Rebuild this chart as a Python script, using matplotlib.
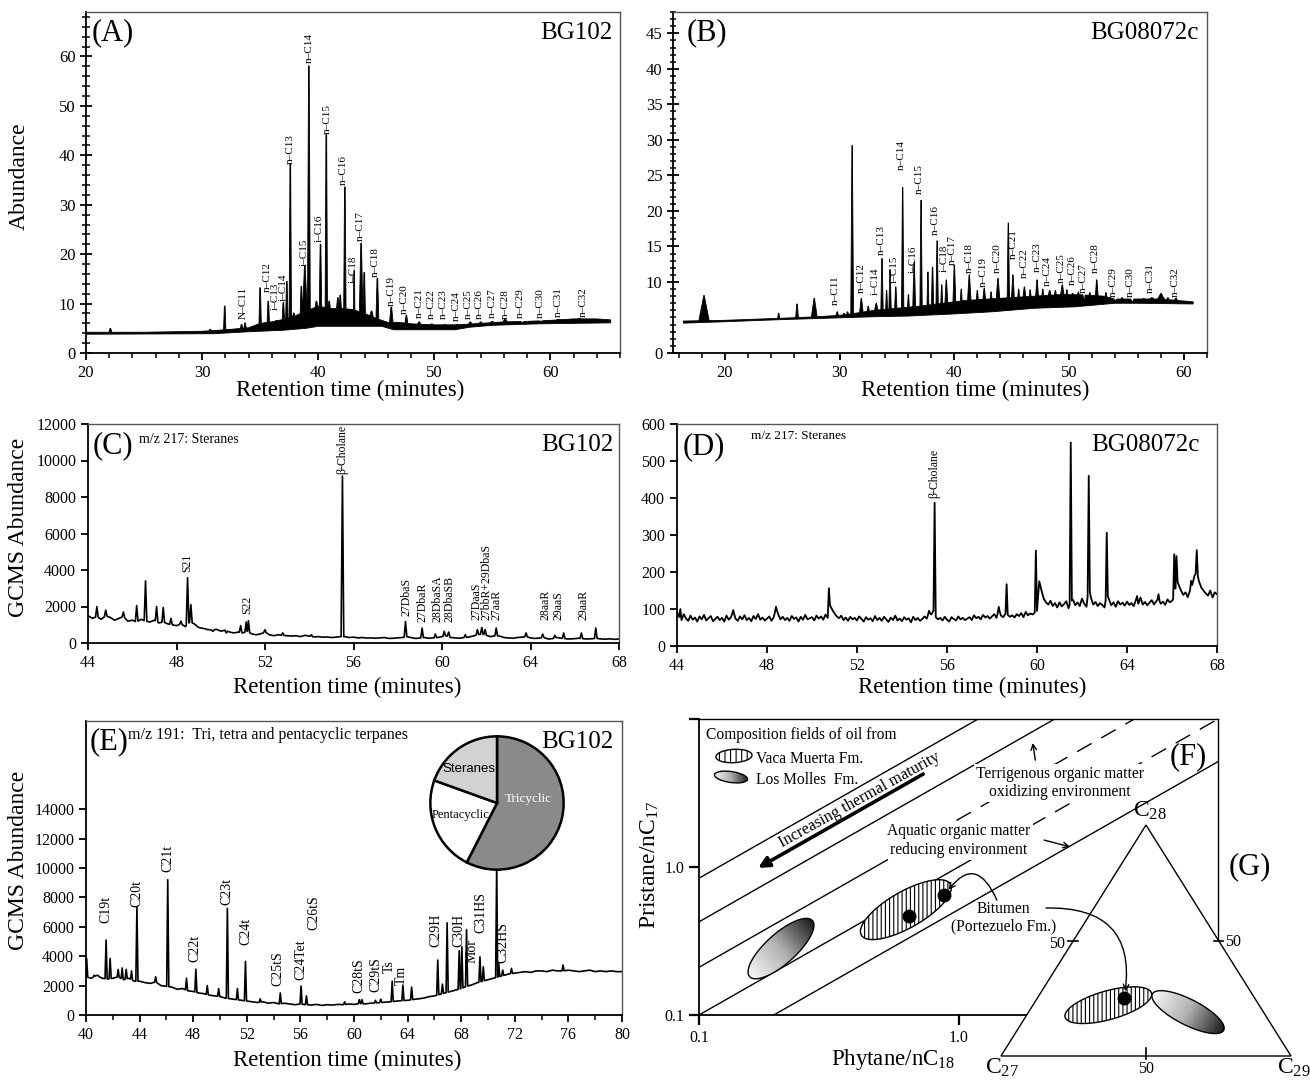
import numpy as np
import matplotlib
matplotlib.use("Agg")
import matplotlib.pyplot as plt
from matplotlib.patches import Polygon, Ellipse
from matplotlib.colors import LinearSegmentedColormap
from matplotlib.ticker import MultipleLocator, FixedLocator, NullLocator

plt.rcParams["font.family"] = ["Liberation Serif", "DejaVu Serif"]
plt.rcParams["mathtext.fontset"] = "custom"
plt.rcParams["mathtext.rm"] = "Liberation Serif"
plt.rcParams["mathtext.it"] = "Liberation Serif:italic"
plt.rcParams["hatch.linewidth"] = 0.8

# ====================== DATA ======================
# ---- Panel A : BG102 whole-oil chromatogram ----
A_base_t = [20, 31, 34, 37, 39, 40, 45.5, 46.5, 51.8, 53, 55, 59, 65.2]
A_base_v = [3.8, 3.9, 4.3, 4.6, 5.0, 5.4, 5.4, 4.7, 4.7, 5.2, 5.6, 5.9, 6.1]
A_env_t = [20, 25, 30, 32, 34, 35, 36, 37, 38, 39, 40, 41, 42, 43, 44, 45, 46, 47, 48, 50, 52, 54, 56, 58, 60, 62, 64, 65.2]
A_env_v = [4.2, 4.2, 4.4, 4.7, 5.1, 6.0, 6.3, 6.8, 7.5, 8.5, 9.5, 9.0, 9.0, 8.8, 8.0, 7.0, 6.2, 6.2, 5.9, 5.7, 5.7, 6.0, 6.3, 6.4, 6.6, 6.9, 6.9, 6.7]
A_pk_t = [22.1, 30.7, 31.95, 33.4, 33.7, 35.0, 35.7, 36.4, 37.0, 37.3, 37.6, 37.9, 38.55, 38.85, 39.2, 39.85,
          40.2, 40.7, 40.95, 41.7, 41.9, 42.3, 43.1, 43.7, 43.97, 44.6, 45.1, 46.3, 47.6, 48.7, 49.8, 50.9,
          52.0, 53.1, 54.0, 55.0, 56.1, 57.6, 59.2, 60.7, 62.5]
A_pk_v = [5.0, 4.8, 9.5, 5.8, 6.1, 13.2, 10.5, 6.6, 10.2, 14.5, 38.3, 8.1, 13.5, 17.6, 58.1, 10.5,
          22.0, 44.2, 10.5, 11.2, 11.7, 33.6, 16.6, 22.2, 16.3, 8.5, 15.1, 9.3, 7.6, 6.3, 5.9, 5.8,
          5.8, 6.3, 6.3, 6.4, 6.8, 6.2, 6.4, 6.8, 7.0]
A_pk_w = [0.12, 0.1, 0.1, 0.1, 0.1, 0.1, 0.1, 0.1, 0.1, 0.1, 0.1, 0.1, 0.1, 0.2, 0.12, 0.1,
          0.1, 0.1, 0.1, 0.12, 0.1, 0.1, 0.06, 0.15, 0.1, 0.15, 0.12, 0.15, 0.12, 0.15, 0.12, 0.12,
          0.12, 0.15, 0.15, 0.15, 0.2, 0.15, 0.15, 0.2, 0.2]
A_lab = ["N–C11", "n–C12", "i–C13", "i–C14", "n–C13", "i–C15", "n–C14", "i–C16", "n–C15", "n–C16",
         "i–C18", "n–C17", "n–C18", "n–C19", "n–C20", "n–C21", "n–C22", "n–C23", "n–C24", "n–C25",
         "n–C26", "n–C27", "n–C28", "n–C29", "n–C30", "n–C31", "n–C32"]
A_lab_t = [33.5, 35.6, 36.3, 37.0, 37.6, 38.8, 39.2, 40.1, 40.8, 42.2, 43.0, 43.6, 44.9, 46.3, 47.4,
           48.7, 49.7, 50.8, 51.9, 52.9, 53.9, 55.0, 56.1, 57.4, 59.1, 60.7, 62.8]
A_lab_y = [6.8, 12.4, 8.8, 10.5, 38.3, 17.6, 58.6, 22.4, 44.4, 33.9, 14.2, 22.7, 15.3, 9.5, 7.8,
           7.1, 6.8, 6.8, 6.4, 6.8, 6.8, 7.1, 6.8, 7.1, 7.1, 7.3, 7.3]

# ---- Panel B : BG08072c whole-oil chromatogram ----
B_base_t = [16.4, 20, 25, 29, 33, 36, 40, 43.3, 47, 50.5, 54, 56, 60.8]
B_base_v = [4.2, 4.4, 4.7, 4.9, 5.1, 5.2, 5.5, 5.8, 6.3, 6.5, 7.0, 7.0, 6.9]
B_env_t = [16.4, 20, 25, 28, 30, 31, 33, 35, 37, 39, 41, 43, 45, 47, 49, 51, 53, 54, 56, 58, 60.8]
B_env_v = [4.5, 4.6, 4.9, 5.1, 5.3, 5.5, 6.0, 6.3, 6.6, 7.0, 7.4, 7.6, 7.8, 8.0, 8.2, 8.2, 8.0, 7.6, 7.6, 7.6, 7.2]
B_pk_t = [18.2, 24.7, 26.3, 27.8, 29.8, 30.4, 30.7, 31.1, 31.9, 32.5, 33.2, 33.7, 34.1, 34.4, 34.9, 35.5,
          36.0, 36.5, 37.1, 37.7, 38.1, 38.5, 38.9, 39.3, 40.0, 40.6, 41.3, 42.0, 42.6, 43.2, 43.8, 44.7,
          45.1, 45.6, 46.1, 46.6, 47.2, 47.7, 48.3, 48.8, 49.4, 49.8, 50.3, 50.8, 51.3, 51.8, 52.4, 53.2,
          54.0, 54.6, 55.5, 56.5, 57.2, 58.0, 58.6, 59.3]
B_pk_v = [8.1, 5.6, 6.9, 7.7, 5.8, 5.6, 5.8, 29.2, 7.7, 6.6, 7.0, 13.3, 8.8, 11.7, 9.3, 23.3,
          8.2, 12.8, 21.5, 11.4, 12.1, 15.8, 9.6, 10.3, 12.4, 9.0, 11.0, 8.8, 9.1, 8.6, 10.5, 18.3,
          11.0, 9.0, 9.3, 8.9, 10.3, 9.0, 8.8, 8.8, 9.6, 8.9, 8.4, 8.6, 7.4, 8.5, 10.3, 8.5,
          7.4, 7.8, 7.2, 7.7, 7.8, 8.4, 7.8, 7.7]
B_pk_w = [0.45, 0.1, 0.12, 0.25, 0.12, 0.08, 0.08, 0.12, 0.15, 0.1, 0.15, 0.1, 0.08, 0.1, 0.1, 0.1,
          0.08, 0.12, 0.1, 0.08, 0.1, 0.1, 0.08, 0.12, 0.12, 0.08, 0.15, 0.08, 0.12, 0.08, 0.15, 0.1,
          0.12, 0.08, 0.12, 0.08, 0.12, 0.08, 0.12, 0.08, 0.15, 0.08, 0.12, 0.08, 0.1, 0.08, 0.12, 0.08,
          0.15, 0.1, 0.15, 0.12, 0.2, 0.3, 0.1, 0.15]
B_lab = ["n–C11", "n–C12", "i–C14", "n–C13", "i–C15", "n–C14", "i–C16", "n–C15", "n–C16", "i–C18",
         "n–C17", "n–C18", "n–C19", "n–C20", "n–C21", "n–C22", "n–C23", "n–C24", "n–C25", "n–C26",
         "n–C27", "n–C28", "n–C29", "n–C30", "n–C31", "n–C32"]
B_lab_t = [29.6, 31.85, 33.1, 33.65, 34.8, 35.35, 36.4, 36.9, 38.35, 39.15, 39.85, 41.3, 42.5, 43.75,
           45.1, 46.1, 47.2, 48.1, 49.3, 50.3, 51.2, 52.3, 53.8, 55.3, 57.1, 59.2]
B_lab_y = [6.7, 8.4, 8.1, 13.8, 9.8, 25.7, 11.2, 22.4, 16.6, 11.4, 12.4, 11.2, 9.3, 11.3,
           13.3, 10.5, 11.4, 9.4, 9.9, 9.6, 8.4, 11.3, 7.9, 7.9, 8.4, 7.9]

# ---- Panel C : BG102 m/z 217 ----
C_t = np.round(np.arange(44.0, 68.01, 0.2), 2)
C_base = [1500, 1350, 1450, 1300, 1500, 1400, 1250, 1350, 1450, 1200,
          1250, 1150, 1300, 1200, 1150, 1250, 1100, 1150, 1050, 1000,
          950, 1050, 900, 1150, 1050, 850, 800, 750, 700, 750,
          650, 700, 600, 550, 600, 550, 650, 500, 450, 500,
          600, 450, 400, 450, 420, 400, 380, 400, 350, 420,
          380, 330, 350, 320, 330, 300, 320, 350, 350, 300,
          320, 280, 300, 270, 280, 260, 280, 300, 250, 260,
          280, 300, 350, 300, 250, 270, 300, 260, 280, 300,
          350, 400, 300, 280, 260, 300, 320, 380, 450, 500,
          420, 350, 400, 380, 300, 280, 260, 300, 320, 350,
          280, 250, 270, 300, 220, 240, 300, 260, 230, 220,
          240, 260, 230, 220, 240, 250, 220, 210, 230, 200, 220]
C_pk_t = [44.4, 44.8, 45.6, 46.2, 46.6, 47.1, 47.4, 47.75, 48.2, 48.5, 48.65, 49.4, 49.65, 50.25,
          50.9, 51.15, 51.25, 52.0, 52.8, 54.1, 55.5, 58.35, 59.1, 59.7, 60.1, 60.3, 61.05, 61.6,
          61.8, 61.95, 62.45, 63.8, 64.55, 65.1, 65.5, 66.3, 66.95]
C_pk_v = [2000, 1800, 1700, 2050, 3400, 2000, 1950, 1350, 1200, 3580, 2100, 730, 640, 550,
          950, 1150, 1220, 730, 550, 450, 9150, 1180, 820, 490, 640, 600, 450, 730,
          850, 730, 820, 550, 490, 420, 550, 550, 820]
C_lab = ["S21", "S22", "β-Cholane", "27DbaS", "27DbaR", "28DbaSA", "28DbaSB", "27DaaS",
         "27bbR+29DbaS", "27aaR", "28aaR", "29aaS", "29aaR"]
C_lab_t = [48.5, 51.2, 55.5, 58.4, 59.1, 59.8, 60.35, 61.55, 62.0, 62.45, 64.7, 65.25, 66.4]
C_lab_y = [3900, 1600, 9250, 1500, 1150, 1150, 1150, 1250, 1250, 1250, 1250, 1250, 1250]

# ---- Panel D : BG08072c m/z 217 ----
D_t = np.round(np.arange(44.0, 68.001, 0.1), 2)
D_base = [92, 78, 70, 86, 74, 68, 82, 71, 77, 66,
          80, 72, 84, 69, 75, 81, 67, 73, 79, 70,
          76, 66, 82, 71, 78, 95, 74, 68, 80, 72,
          83, 70, 76, 67, 81, 73, 86, 71, 77, 69,
          74, 80, 68, 78, 104, 85, 72, 79, 70, 76,
          68, 81, 73, 77, 66, 79, 71, 84, 72, 75,
          78, 69, 82, 74, 80, 71, 85, 76, 110, 98,
          88, 80, 75, 82, 70, 77, 68, 79, 72, 76,
          69, 80, 73, 66, 78, 71, 75, 67, 81, 70,
          76, 68, 79, 72, 65, 77, 70, 82, 69, 74,
          67, 78, 71, 75, 64, 79, 70, 76, 68, 73,
          80, 74, 92, 85, 96, 78, 72, 76, 69, 79,
          71, 66, 78, 73, 69, 80, 72, 76, 70, 74,
          78, 70, 83, 75, 79, 72, 84, 77, 81, 74,
          80, 86, 76, 100, 82, 78, 88, 84, 79, 83,
          77, 86, 81, 89, 78, 92, 83, 88, 85, 90,
          95, 175, 150, 128, 118, 112, 122, 108, 116, 104,
          118, 107, 113, 121, 102, 120, 125, 110, 118, 108,
          128, 114, 106, 160, 130, 112, 119, 108, 116, 111,
          104, 140, 126, 110, 118, 106, 121, 112, 117, 109,
          120, 111, 116, 108, 125, 114, 131, 112, 119, 110,
          117, 124, 112, 121, 128, 114, 120, 111, 126, 118,
          122, 130, 180, 165, 150, 138, 145, 132, 150, 165,
          190, 200, 175, 158, 150, 142, 136, 150, 131, 145,
          140]
D_pk_t = [44.15, 46.5, 48.4, 50.75, 55.2, 55.45, 58.3, 58.65, 59.95, 61.5, 62.3, 63.1, 64.45, 65.4,
          66.1, 66.2, 66.85, 67.1]
D_pk_v = [100, 97, 106, 156, 95, 387, 106, 167, 258, 550, 460, 306, 135, 140,
          248, 243, 176, 259]

# ---- Panel E : BG102 m/z 191 ----
E_t = np.round(np.arange(40.0, 80.01, 0.4), 2)
E_base = [2600, 2500, 2700, 2500, 2450, 2500, 2600, 2400, 2500, 2300,
          2300, 2200, 2150, 2250, 2000, 1950, 1900, 1750, 1800, 1650,
          1600, 1500, 1450, 1350, 1300, 1250, 1150, 1100, 1050, 1000,
          950, 900, 850, 900, 800, 850, 750, 800, 750, 700,
          750, 700, 680, 720, 650, 700, 680, 720, 700, 750,
          720, 780, 750, 800, 820, 850, 880, 900, 950, 980,
          1000, 1050, 1100, 1150, 1250, 1300, 1400, 1500, 1600, 1700,
          1800, 1950, 2050, 2200, 2300, 2400, 2500, 2600, 2700, 2800,
          2850, 2900, 2950, 2900, 3000, 3000, 2950, 3050, 3000, 3000,
          3050, 3000, 2950, 3000, 3050, 2950, 3000, 2950, 3000, 2950, 2950]
E_pk_t = [40.05, 40.6, 40.9, 41.5, 41.8, 42.4, 42.7, 43.0, 43.4, 43.8, 45.2, 46.1, 47.5, 48.2,
          49.05, 49.9, 50.55, 51.3, 51.9, 53.0, 54.5, 56.05, 56.45, 59.3, 60.4, 60.6, 61.6, 62.0,
          62.85, 63.65, 64.3, 66.25, 66.6, 66.95, 67.85, 68.05, 68.4, 69.4, 69.65, 70.65, 70.8,
          71.1, 71.75, 75.6]
E_pk_v = [3850, 2700, 2700, 5100, 3850, 3100, 3200, 3100, 3000, 7360, 2600, 9200, 2500, 3120,
          2000, 1800, 7250, 1800, 3650, 1100, 1500, 1970, 1300, 900, 1050, 1050, 1000, 1080,
          2300, 2040, 1900, 3740, 2100, 6270, 4370, 4640, 5800, 3960, 3280, 10500, 3500,
          3050, 3170, 3400]
E_lab = ["C19t", "C20t", "C21t", "C22t", "C23t", "C24t", "C25tS", "C24Tet", "C26tS", "C28tS",
         "C29tS", "Ts", "Tm", "C29H", "C30H", "Mor", "C31HS", "C32HS"]
E_lab_t = [41.5, 43.8, 46.1, 48.1, 50.5, 51.9, 54.3, 56.0, 57.0, 60.4, 61.6, 62.6, 63.5, 66.1,
           67.8, 68.8, 69.5, 71.1]
E_lab_y = [6270, 7360, 9740, 3620, 7470, 4760, 1990, 2380, 5780, 1520, 1540, 2830, 2040, 4640,
           4640, 3510, 5550, 3510]
pie_labels = ["Tricyclic", "Pentacyclic", "Steranes"]
pie_vals = [57.5, 23.0, 19.5]
pie_colors = ["#8a8a8a", "#ffffff", "#d2d2d2"]

# ---- Panel F : Pristane/nC17 vs Phytane/nC18 ----
F_k = [8.4, 4.26, 2.1, 1.0, 0.515]          # Pr/nC17 = k * Ph/nC18 field lines
F_dash_from = [None, None, 0.64, 1.0, None]  # x where the line turns dashed
F_dots_x = [0.643, 0.883]
F_dots_y = [0.469, 0.643]
F_VM_c, F_VM_u, F_VM_v = (0.627, 0.515), (0.172, 0.171), (-0.033, 0.108)   # log-decades
F_LM_c, F_LM_u, F_LM_v = (0.207, 0.281), (0.121, 0.189), (-0.038, 0.077)

# ---- Panel G : C27-C28-C29 sterane ternary (%) ----
G_dot = (45, 25, 30)
G_VM_c, G_VM_u, G_VM_v = (52, 22, 26), (0.149, 0.045), (-0.013, 0.052)
G_LM_c, G_LM_u, G_LM_v = (26, 19, 55), (0.123, -0.068), (0.020, 0.043)

# ====================== FIGURE ======================
W, H = 1310, 1080
fig = plt.figure(figsize=(W / 100, H / 100), dpi=100)


def rect(l, t, r, b):
    return [l / W, 1 - b / H, (r - l) / W, (b - t) / H]


def ftext(px, py, s, **kw):
    return fig.text(px / W, 1 - py / H, s, **kw)


def spike_trace(bt, bv, pt, pv, hw, top=0.0):
    bt = np.asarray(bt, float)
    bv = np.asarray(bv, float)
    pt = np.asarray(pt, float)
    pv = np.asarray(pv, float)
    hw = np.broadcast_to(np.asarray(hw, float), pt.shape)
    keep = np.ones(bt.size, bool)
    xs, ys = [], []
    for t, v, w in zip(pt, pv, hw):
        keep &= ~((bt > t - w) & (bt < t + w))
        xs += [t - w, t - top, t + top, t + w]
        ys += [np.interp(t - w, bt, bv), v, v, np.interp(t + w, bt, bv)]
    xs = np.concatenate([bt[keep], xs])
    ys = np.concatenate([bv[keep], ys])
    o = np.argsort(xs, kind="stable")
    return xs[o], ys[o]


def style(ax, fs=12):
    for s in ["top", "right"]:
        ax.spines[s].set_color("#555555")
        ax.spines[s].set_linewidth(1.0)
    for s in ["left", "bottom"]:
        ax.spines[s].set_color("black")
        ax.spines[s].set_linewidth(1.3)
    ax.tick_params(labelsize=fs, width=1.3, length=5, colors="black")
    ax.tick_params(which="minor", width=1.1, length=3.5)


LBL = 16.5

# ---------------- A ----------------
axA = fig.add_axes(rect(86, 12, 620, 353))
ux, uy = spike_trace(A_env_t, A_env_v, A_pk_t, A_pk_v, A_pk_w, top=0.03)
axA.fill(np.concatenate([ux, A_base_t[::-1]]), np.concatenate([uy, A_base_v[::-1]]),
         color="black", lw=0.6)
for n, t, y in zip(A_lab, A_lab_t, A_lab_y):
    axA.text(t, y, n, rotation=90, ha="center", va="bottom", fontsize=8)
axA.set_xlim(20, 66)
axA.set_ylim(0, 69)
axA.xaxis.set_major_locator(FixedLocator([20, 30, 40, 50, 60]))
axA.xaxis.set_minor_locator(MultipleLocator(2))
axA.yaxis.set_major_locator(FixedLocator([0, 10, 20, 30, 40, 50, 60]))
axA.yaxis.set_minor_locator(MultipleLocator(2))
style(axA)
axA.tick_params(axis="y", which="both", direction="inout")
axA.tick_params(axis="y", which="major", length=8)
axA.tick_params(axis="y", which="minor", length=6)
axA.text(0.011, 0.938, "(A)", transform=axA.transAxes, fontsize=22, va="center", ha="left")
axA.text(0.985, 0.938, "BG102", transform=axA.transAxes, fontsize=18, va="center", ha="right")
ftext(19, 176, "Abundance", rotation=90, ha="center", va="center", fontsize=LBL + 0.5)
ftext(350, 390, "Retention time (minutes)", ha="center", va="center", fontsize=LBL)

# ---------------- B ----------------
axB = fig.add_axes(rect(673, 12, 1207, 353))
ux, uy = spike_trace(B_env_t, B_env_v, B_pk_t, B_pk_v, B_pk_w, top=0.02)
axB.fill(np.concatenate([ux, B_base_t[::-1]]), np.concatenate([uy, B_base_v[::-1]]),
         color="black", lw=0.6)
for n, t, y in zip(B_lab, B_lab_t, B_lab_y):
    axB.text(t, y, n, rotation=90, ha="center", va="bottom", fontsize=8)
axB.set_xlim(15.5, 62)
axB.set_ylim(0, 48)
axB.xaxis.set_major_locator(FixedLocator([20, 30, 40, 50, 60]))
axB.xaxis.set_minor_locator(MultipleLocator(2))
axB.yaxis.set_major_locator(FixedLocator([0, 10, 15, 20, 25, 30, 35, 40, 45]))
axB.yaxis.set_minor_locator(MultipleLocator(1))
style(axB)
axB.tick_params(axis="y", which="both", direction="inout")
axB.tick_params(axis="y", which="major", length=8)
axB.tick_params(axis="y", which="minor", length=5)
axB.text(0.026, 0.938, "(B)", transform=axB.transAxes, fontsize=22, va="center", ha="left")
axB.text(0.985, 0.938, "BG08072c", transform=axB.transAxes, fontsize=18, va="center", ha="right")
ftext(975, 390, "Retention time (minutes)", ha="center", va="center", fontsize=LBL)

# ---------------- C ----------------
axC = fig.add_axes(rect(88, 424, 619, 643))
cx, cy = spike_trace(C_t, C_base, C_pk_t, C_pk_v, 0.06)
axC.plot(cx, cy, color="black", lw=1.2)
for n, t, y in zip(C_lab, C_lab_t, C_lab_y):
    axC.text(t, y, n, rotation=90, ha="center", va="bottom", fontsize=8.5)
axC.set_xlim(44, 68)
axC.set_ylim(0, 12000)
axC.set_xticks(np.arange(44, 69, 4))
axC.set_yticks(np.arange(0, 12001, 2000))
style(axC, 11.5)
axC.text(0.008, 0.90, "(C)", transform=axC.transAxes, fontsize=22, va="center", ha="left")
axC.text(0.096, 0.93, "m/z 217: Steranes", transform=axC.transAxes, fontsize=10, va="center")
axC.text(0.99, 0.904, "BG102", transform=axC.transAxes, fontsize=18, va="center", ha="right")
ftext(19, 527, "GCMS Abundance", rotation=90, ha="center", va="center", fontsize=LBL + 0.5)
ftext(347, 687, "Retention time (minutes)", ha="center", va="center", fontsize=LBL)

# ---------------- D ----------------
axD = fig.add_axes(rect(677, 424, 1217, 646))
dx, dy = spike_trace(D_t, D_base, D_pk_t, D_pk_v, 0.05)
axD.plot(dx, dy, color="black", lw=1.3)
axD.text(55.45, 401, "β-Cholane", rotation=90, ha="center", va="bottom", fontsize=8.5)
axD.set_xlim(44, 68)
axD.set_ylim(0, 600)
axD.set_xticks(np.arange(44, 69, 4))
axD.set_yticks(np.arange(0, 601, 100))
style(axD, 11.5)
axD.text(0.011, 0.896, "(D)", transform=axD.transAxes, fontsize=22, va="center", ha="left")
axD.text(0.137, 0.946, "m/z 217: Steranes", transform=axD.transAxes, fontsize=9.5, va="center")
axD.text(0.967, 0.905, "BG08072c", transform=axD.transAxes, fontsize=18, va="center", ha="right")
ftext(972, 687, "Retention time (minutes)", ha="center", va="center", fontsize=LBL)

# ---------------- E ----------------
axE = fig.add_axes(rect(86, 721, 622, 1015))
ex, ey = spike_trace(E_t, E_base, E_pk_t, E_pk_v, 0.08)
axE.plot(ex, ey, color="black", lw=1.2)
for n, t, y in zip(E_lab, E_lab_t, E_lab_y):
    axE.text(t, y, n, rotation=90, ha="center", va="bottom", fontsize=10)
axE.set_xlim(40, 80)
axE.set_ylim(0, 20000)
axE.set_xticks(np.arange(40, 81, 4))
axE.xaxis.set_minor_locator(MultipleLocator(2))
axE.set_yticks(np.arange(0, 14001, 2000))
style(axE, 11.5)
axE.text(0.006, 0.929, "(E)", transform=axE.transAxes, fontsize=22, va="center", ha="left")
axE.text(0.078, 0.952, "m/z 191:  Tri, tetra and pentacyclic terpanes", transform=axE.transAxes,
         fontsize=11.5, va="center")
axE.text(0.985, 0.929, "BG102", transform=axE.transAxes, fontsize=18, va="center", ha="right")
ftext(19, 860, "GCMS Abundance", rotation=90, ha="center", va="center", fontsize=LBL + 0.5)
ftext(347, 1060, "Retention time (minutes)", ha="center", va="center", fontsize=LBL)

axP = fig.add_axes(rect(429, 735, 565, 871))
axP.pie(pie_vals, colors=pie_colors, startangle=90, counterclock=False,
        wedgeprops=dict(edgecolor="black", linewidth=1.8))
axP.set_xlim(-1.02, 1.02)
axP.set_ylim(-1.02, 1.02)
axP.text(0.47, 0.06, pie_labels[0], color="white", ha="center", va="center", fontsize=9.5)
axP.text(-0.55, -0.18, pie_labels[1], ha="center", va="center", fontsize=9)
axP.text(-0.42, 0.51, pie_labels[2], ha="center", va="center", fontsize=9.5,
         family="Liberation Sans")

# ---------------- F ----------------
gray_cm = LinearSegmentedColormap.from_list("g", ["#f7f7f7", "#b0b0b0", "#1a1a1a"])

axF = fig.add_axes(rect(699, 719, 1218, 1015))
axF.set_xscale("log")
axF.set_yscale("log")
xx = np.array([0.1, 10.0])
for k, xd in zip(F_k, F_dash_from):
    if xd is None:
        axF.plot(xx, k * xx, color="black", lw=1.0)
    else:
        axF.plot([0.1, xd], [0.1 * k, xd * k], color="black", lw=1.0)
        axF.plot([xd, 10], [xd * k, 10 * k], color="black", lw=1.0, dashes=(12, 8))


def blob_pts(c, u, v, n=160):
    s = np.linspace(0, 2 * np.pi, n)
    return (c[0] + u[0] * np.cos(s) + v[0] * np.sin(s),
            c[1] + u[1] * np.cos(s) + v[1] * np.sin(s))


def grad_blob(ax, c, u, v, log):
    px, py = blob_pts(c, u, v)
    if log:
        verts = np.c_[10 ** px, 10 ** py]
    else:
        verts = np.c_[px, py]
    patch = Polygon(verts, closed=True, fc="none", ec="black", lw=1.0, zorder=4)
    ax.add_patch(patch)
    gx, gy = np.meshgrid(np.linspace(px.min(), px.max(), 80), np.linspace(py.min(), py.max(), 80))
    M = np.array([[u[0], v[0]], [u[1], v[1]]])
    ab = np.linalg.solve(M, np.vstack([gx.ravel() - c[0], gy.ravel() - c[1]]))
    al = ab[0].reshape(gx.shape)
    if log:
        gx, gy = 10 ** gx, 10 ** gy
    m = ax.pcolormesh(gx, gy, al, cmap=gray_cm, vmin=-1, vmax=1, shading="auto", zorder=3)
    m.set_clip_path(patch)


def hatch_blob(ax, c, u, v, log):
    px, py = blob_pts(c, u, v)
    verts = np.c_[10 ** px, 10 ** py] if log else np.c_[px, py]
    ax.add_patch(Polygon(verts, closed=True, fc="white", ec="black", lw=1.0,
                         hatch="||||", zorder=3, clip_on=False))


logc = lambda c: (np.log10(c[0]), np.log10(c[1]))
grad_blob(axF, logc(F_LM_c), F_LM_u, F_LM_v, True)
hatch_blob(axF, logc(F_VM_c), F_VM_u, F_VM_v, True)
axF.plot(F_dots_x, F_dots_y, "o", color="black", ms=9, zorder=5)

axF.set_xlim(0.1, 10)
axF.set_ylim(0.1, 10)
axF.xaxis.set_major_locator(FixedLocator([0.1, 1.0]))
axF.yaxis.set_major_locator(FixedLocator([0.1, 1.0, 10.0]))
axF.xaxis.set_minor_locator(NullLocator())
axF.yaxis.set_minor_locator(NullLocator())
axF.set_xticklabels(["0.1", "1.0"])
axF.set_yticklabels(["0.1", "1.0", ""])
for s in axF.spines.values():
    s.set_color("black")
    s.set_linewidth(1.0)
axF.spines["left"].set_linewidth(1.3)
axF.spines["bottom"].set_linewidth(1.3)
axF.tick_params(labelsize=11.5, width=1.6, length=7)

tkw = dict(transform=axF.transAxes, fontsize=11.2)
wb = dict(boxstyle="square,pad=0.15", fc="white", ec="none")
axF.text(0.0135, 0.946, "Composition fields of oil from", va="center", **tkw)
ic1 = Ellipse((0.0674, 0.875), 0.07, 0.045, angle=8, transform=axF.transAxes,
              fc="white", ec="black", lw=1.0, hatch="|||", zorder=4)
axF.add_patch(ic1)
axF.text(0.110, 0.865, "Vaca Muerta Fm.", va="center", **tkw)
ic2 = Ellipse((0.0617, 0.804), 0.066, 0.036, angle=-18, transform=axF.transAxes,
              fc="none", ec="black", lw=1.0, zorder=5)
axF.add_patch(ic2)
im = axF.imshow(np.linspace(0, 1, 60)[None, :], extent=[0.026, 0.097, 0.77, 0.84],
                transform=axF.transAxes, cmap=gray_cm, aspect="auto", zorder=4)
im.set_clip_path(ic2)
axF.text(0.110, 0.794, "Los Molles  Fm.", va="center", **tkw)
axF.text(0.310, 0.726, "Increasing thermal maturity", rotation=29, ha="center", va="center",
         transform=axF.transAxes, fontsize=11.8)
axF.annotate("", xy=(0.114, 0.497), xytext=(0.432, 0.814), xycoords="axes fraction",
             arrowprops=dict(arrowstyle="-|>", lw=2.6, color="black", mutation_scale=16,
                             shrinkA=0, shrinkB=0))
axF.text(0.942, 0.872, "(F)", ha="center", va="center", transform=axF.transAxes, fontsize=22)
axF.text(0.696, 0.814, "Terrigenous organic matter", ha="center", va="center", bbox=wb, **tkw)
axF.text(0.696, 0.753, "oxidizing environment", ha="center", va="center", bbox=wb, **tkw)
axF.annotate("", xy=(0.643, 0.919), xytext=(0.648, 0.861), xycoords="axes fraction",
             arrowprops=dict(arrowstyle="->", lw=1.0, shrinkA=0, shrinkB=0))
axF.text(0.501, 0.622, "Aquatic organic matter", ha="center", va="center", bbox=wb, **tkw)
axF.text(0.501, 0.557, "reducing environment", ha="center", va="center", bbox=wb, **tkw)
axF.annotate("", xy=(0.715, 0.568), xytext=(0.665, 0.591), xycoords="axes fraction",
             arrowprops=dict(arrowstyle="->", lw=1.0, shrinkA=0, shrinkB=0))
axF.text(0.586, 0.358, "Bitumen", ha="center", va="center", **tkw)
axF.text(0.586, 0.300, "(Portezuelo Fm.)", ha="center", va="center", **tkw)
axF.annotate("", xy=(F_dots_x[1], F_dots_y[1]), xycoords="data", xytext=(0.574, 0.388),
             textcoords="axes fraction",
             arrowprops=dict(arrowstyle="->", lw=1.0, connectionstyle="arc3,rad=0.9",
                             shrinkA=0, shrinkB=5))
ftext(650, 865, "Pristane/nC$_{17}$", rotation=90, ha="center", va="center", fontsize=LBL + 0.5)
ftext(893, 1060, "Phytane/nC$_{18}$", ha="center", va="center", fontsize=LBL)

# ---------------- G ----------------
S3 = np.sqrt(3) / 2


def tern(c):
    a, b, cc = [x / float(sum(c)) for x in c]
    return cc + b / 2, b * S3


axG = fig.add_axes(rect(1001, 825, 1291, 1056))
axG.set_xlim(0, 1)
axG.set_ylim(0, S3)
axG.axis("off")
axG.add_patch(Polygon([[0, 0], [1, 0], [0.5, S3]], closed=True, fc="white", ec="black",
                      lw=1.0, clip_on=False, zorder=1))
hatch_blob(axG, tern(G_VM_c), G_VM_u, G_VM_v, False)
grad_blob(axG, tern(G_LM_c), G_LM_u, G_LM_v, False)
gdx, gdy = tern(G_dot)
axG.plot([gdx], [gdy], "o", color="black", ms=9, zorder=6, clip_on=False)
# side mid ticks (50 %)
for (x0, y0), (x1, y1) in [((0.23, S3 / 2), (0.265, S3 / 2)), ((0.735, S3 / 2), (0.765, S3 / 2)),
                           ((0.5, -0.01), (0.5, 0.03))]:
    axG.plot([x0, x1], [y0, y1], color="black", lw=1.2, clip_on=False)
axG.text(0.222, S3 / 2 - 0.012, "50", ha="right", va="center", fontsize=11.5)
axG.text(0.772, S3 / 2 - 0.005, "50", ha="left", va="center", fontsize=11.5)
axG.text(0.5, -0.018, "50", ha="center", va="top", fontsize=11.5)
axG.text(0.515, 0.92, "C$_{28}$", ha="center", va="center", fontsize=17)
axG.text(0.005, -0.045, "C$_{27}$", ha="center", va="center", fontsize=17)
axG.text(1.01, -0.045, "C$_{29}$", ha="center", va="center", fontsize=17)
axG.annotate("", xy=(gdx, gdy), xycoords="data", xytext=(1046 / W, 1 - 908 / H),
             textcoords="figure fraction", annotation_clip=False,
             arrowprops=dict(arrowstyle="->", lw=1.0, connectionstyle="arc3,rad=-0.6",
                             shrinkA=0, shrinkB=5))
ftext(1250, 867, "(G)", ha="center", va="center", fontsize=22)

fig.savefig("out.png", dpi=100)
